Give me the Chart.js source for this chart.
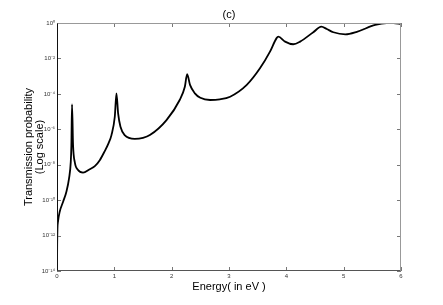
<!DOCTYPE html>
<html><head><meta charset="utf-8">
<script src="https://cdn.jsdelivr.net/npm/chart.js@4"></script>
<style>html,body{margin:0;padding:0;background:#fff;overflow:hidden}#wrap{width:443px;height:305px}</style>
</head><body><div id="wrap"><canvas id="c" width="443" height="305"></canvas></div>
<script>
// Energy in eV
const energy = [0, 0.003, 0.008, 0.018, 0.047, 0.105, 0.164, 0.21, 0.24, 0.251, 0.262, 0.28, 0.31, 0.367, 0.454, 0.571, 0.66, 0.746, 0.833, 0.9, 0.95, 1.008, 1.037, 1.066, 1.107, 1.18, 1.357, 1.5, 1.62, 1.91, 2.14, 2.23, 2.27, 2.32, 2.405, 2.5, 2.67, 2.84, 3.02, 3.31, 3.54, 3.715, 3.83, 3.86, 3.978, 4.12, 4.24, 4.47, 4.61, 4.705, 4.82, 5.03, 5.23, 5.55, 5.75, 5.87, 6.0];
// Transmission probability
const transmission = [1e-14, 3.2e-13, 2.5e-12, 6.3e-12, 2.2e-11, 7.9e-11, 3.0e-10, 1.7e-9, 1.4e-8, 1.3e-7, 2.5e-5, 1.3e-7, 1.4e-8, 5.0e-9, 3.6e-9, 5.6e-9, 8.3e-9, 1.8e-8, 5.9e-8, 1.66e-7, 4.7e-7, 5.1e-6, 1.07e-4, 7.9e-6, 1.4e-6, 4.7e-7, 2.9e-7, 3.3e-7, 4.7e-7, 3.3e-6, 4.5e-5, 2.5e-4, 1.3e-3, 3.2e-4, 1.07e-4, 6.0e-5, 4.5e-5, 4.9e-5, 6.9e-5, 3.2e-4, 2.75e-3, 2.4e-2, 0.14, 0.17, 0.089, 0.063, 0.089, 0.30, 0.62, 0.46, 0.30, 0.23, 0.32, 0.78, 1.0, 1.0, 0.87];
const xTicks = [0, 1, 2, 3, 4, 5, 6];
const yTicks = [1e-14, 1e-12, 1e-10, 1e-8, 1e-6, 1e-4, 1e-2, 1];
const yTickLabels = ['10\u207B\u00B9\u2074', '10\u207B\u00B9\u00B2', '10\u207B\u00B9\u2070', '10\u207B\u2078', '10\u207B\u2076', '10\u207B\u2074', '10\u207B\u00B2', '10\u2070'];

const FONT = '"Liberation Sans", Arial, Helvetica, sans-serif';

const boxPlugin = {
  id: 'box',
  afterDatasetsDraw(chart) {
    const {ctx, chartArea: a, scales: {x, y}} = chart;
    ctx.save();
    ctx.lineWidth = 1;
    ctx.strokeStyle = '#777';
    const seg = (x1, y1, x2, y2) => { ctx.beginPath(); ctx.moveTo(x1, y1); ctx.lineTo(x2, y2); ctx.stroke(); };
    x.ticks.forEach(t => {
      const px = Math.round(x.getPixelForValue(t.value)) + 0.5;
      seg(px, a.bottom, px, a.bottom - 4);
      seg(px, a.top, px, a.top + 4);
    });
    y.ticks.forEach(t => {
      const py = Math.round(y.getPixelForValue(t.value)) + 0.5;
      seg(a.left, py, a.left + 4, py);
      seg(a.right, py, a.right - 4, py);
    });
    const L = Math.round(a.left) + 0.5, R = Math.round(a.right) - 0.5, T = Math.round(a.top) + 0.5, B = Math.round(a.bottom) - 0.5;
    ctx.strokeStyle = '#999';
    seg(L, T, R, T);
    seg(R, T, R, B);
    ctx.strokeStyle = '#555';
    seg(L, B, R, B);
    ctx.strokeStyle = '#111';
    seg(L, T, L, B);
    ctx.restore();
  }
};

new Chart(document.getElementById('c'), {
  type: 'line',
  data: {
    datasets: [{
      data: energy.map((e, i) => ({x: e, y: transmission[i]})),
      borderColor: '#000',
      borderWidth: 1.8,
      pointRadius: 0,
      fill: false,
      cubicInterpolationMode: 'monotone'
    }]
  },
  options: {
    responsive: false,
    animation: false,
    devicePixelRatio: 1,
    layout: {padding: {left: 0, right: 42, top: 0, bottom: 0}},
    plugins: {
      legend: {display: false},
      tooltip: {enabled: false},
      title: {
        display: true, text: '(c)', fullSize: false, color: '#000',
        font: {family: FONT, size: 11, weight: 'normal', lineHeight: 1.2},
        padding: {top: 8, bottom: 1.8}
      }
    },
    scales: {
      x: {
        type: 'linear', position: 'bottom', min: 0, max: 6,
        grid: {display: false, drawTicks: false},
        border: {display: false},
        afterBuildTicks: s => { s.ticks = xTicks.map(v => ({value: v})); },
        ticks: {color: '#333', font: {family: FONT, size: 6}, padding: 2, maxRotation: 0, autoSkip: false},
        title: {display: true, text: 'Energy( in eV )', color: '#000', font: {family: FONT, size: 11, lineHeight: 1.2}, padding: {top: 0, bottom: 11.4}},
        afterFit: s => { s.height = 34; }
      },
      y: {
        type: 'logarithmic', position: 'left', min: 1e-14, max: 1,
        grid: {display: false, drawTicks: false},
        border: {display: false},
        afterBuildTicks: s => { s.ticks = yTicks.map(v => ({value: v})); },
        ticks: {color: '#333', font: {family: FONT, size: 6}, padding: 2, autoSkip: false,
          callback: (v, i) => yTickLabels[i]},
        title: {display: true, text: ['Transmission probability', '(Log scale)'], color: '#000', font: {family: FONT, size: 11, lineHeight: 1.0}, padding: {top: 23.5, bottom: 0}},
        afterFit: s => { s.width = 57; }
      }
    }
  },
  plugins: [boxPlugin]
});
</script></body></html>
